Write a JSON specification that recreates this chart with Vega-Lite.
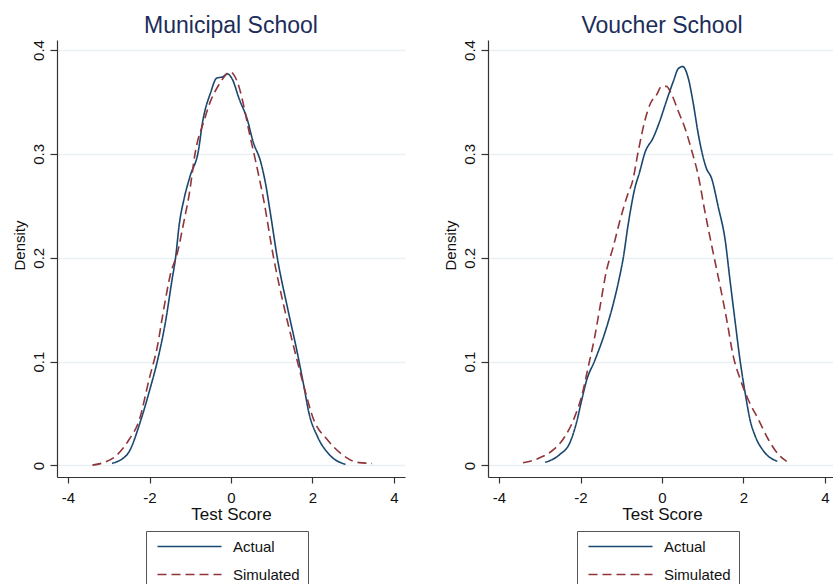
{
  "$schema": "https://vega.github.io/schema/vega-lite/v6.json",
  "background": "white",
  "padding": {"left": 12, "top": 14, "right": 0, "bottom": 0},
  "config": {
    "font": "Liberation Sans",
    "view": {"stroke": null},
    "axis": {
      "domainColor": "#333333",
      "domainWidth": 1.2,
      "tickColor": "#333333",
      "tickWidth": 1.2,
      "labelFont": "Liberation Sans",
      "titleFont": "Liberation Sans",
      "labelColor": "#111111",
      "titleColor": "#111111",
      "labelFontSize": 15,
      "titleFontSize": 17,
      "titleFontWeight": "normal",
      "gridColor": "#e8f0f2",
      "gridWidth": 1.5,
      "labelFlush": false
    },
    "title": {
      "font": "Liberation Sans",
      "fontSize": 23,
      "fontWeight": "normal",
      "color": "#1c2d5a",
      "anchor": "middle",
      "baseline": "alphabetic",
      "offset": 2
    }
  },
  "spacing": 83,
  "bounds": "flush",
  "resolve": {
    "scale": {"color": "independent", "strokeDash": "independent"},
    "legend": {"color": "independent", "strokeDash": "independent"}
  },
  "datasets": {
    "municipal": [
      {"series": "Actual", "score": -2.92, "density": 0.002},
      {"series": "Actual", "score": -2.54, "density": 0.011},
      {"series": "Actual", "score": -2.21, "density": 0.044},
      {"series": "Actual", "score": -2.0, "density": 0.072},
      {"series": "Actual", "score": -1.81, "density": 0.1},
      {"series": "Actual", "score": -1.6, "density": 0.14},
      {"series": "Actual", "score": -1.45, "density": 0.178},
      {"series": "Actual", "score": -1.36, "density": 0.2},
      {"series": "Actual", "score": -1.27, "density": 0.232},
      {"series": "Actual", "score": -1.15, "density": 0.257},
      {"series": "Actual", "score": -1.0, "density": 0.279},
      {"series": "Actual", "score": -0.8, "density": 0.303},
      {"series": "Actual", "score": -0.7, "density": 0.33},
      {"series": "Actual", "score": -0.5, "density": 0.359},
      {"series": "Actual", "score": -0.35, "density": 0.373},
      {"series": "Actual", "score": -0.21, "density": 0.374},
      {"series": "Actual", "score": -0.09, "density": 0.377},
      {"series": "Actual", "score": 0.03, "density": 0.372},
      {"series": "Actual", "score": 0.2, "density": 0.353},
      {"series": "Actual", "score": 0.4, "density": 0.333},
      {"series": "Actual", "score": 0.54, "density": 0.312},
      {"series": "Actual", "score": 0.73, "density": 0.292},
      {"series": "Actual", "score": 0.84, "density": 0.273},
      {"series": "Actual", "score": 0.97, "density": 0.242},
      {"series": "Actual", "score": 1.14, "density": 0.199},
      {"series": "Actual", "score": 1.38, "density": 0.153},
      {"series": "Actual", "score": 1.63, "density": 0.108},
      {"series": "Actual", "score": 1.79, "density": 0.076},
      {"series": "Actual", "score": 1.91, "density": 0.051},
      {"series": "Actual", "score": 2.12, "density": 0.028},
      {"series": "Actual", "score": 2.4, "density": 0.011},
      {"series": "Actual", "score": 2.81, "density": 0.001},
      {"series": "Simulated", "score": -3.4, "density": 0.0003},
      {"series": "Simulated", "score": -3.11, "density": 0.003},
      {"series": "Simulated", "score": -2.83, "density": 0.009},
      {"series": "Simulated", "score": -2.5, "density": 0.025},
      {"series": "Simulated", "score": -2.25, "density": 0.044},
      {"series": "Simulated", "score": -2.01, "density": 0.083},
      {"series": "Simulated", "score": -1.81, "density": 0.114},
      {"series": "Simulated", "score": -1.64, "density": 0.153},
      {"series": "Simulated", "score": -1.48, "density": 0.185},
      {"series": "Simulated", "score": -1.32, "density": 0.204},
      {"series": "Simulated", "score": -1.15, "density": 0.236},
      {"series": "Simulated", "score": -1.03, "density": 0.26},
      {"series": "Simulated", "score": -0.87, "density": 0.303},
      {"series": "Simulated", "score": -0.66, "density": 0.332},
      {"series": "Simulated", "score": -0.5, "density": 0.351},
      {"series": "Simulated", "score": -0.29, "density": 0.367},
      {"series": "Simulated", "score": -0.15, "density": 0.375},
      {"series": "Simulated", "score": -0.03, "density": 0.379},
      {"series": "Simulated", "score": 0.07, "density": 0.376},
      {"series": "Simulated", "score": 0.2, "density": 0.364},
      {"series": "Simulated", "score": 0.32, "density": 0.345},
      {"series": "Simulated", "score": 0.44, "density": 0.322},
      {"series": "Simulated", "score": 0.61, "density": 0.292},
      {"series": "Simulated", "score": 0.8, "density": 0.256},
      {"series": "Simulated", "score": 1.05, "density": 0.199},
      {"series": "Simulated", "score": 1.3, "density": 0.153},
      {"series": "Simulated", "score": 1.54, "density": 0.114},
      {"series": "Simulated", "score": 1.79, "density": 0.076},
      {"series": "Simulated", "score": 2.03, "density": 0.044},
      {"series": "Simulated", "score": 2.36, "density": 0.025},
      {"series": "Simulated", "score": 2.73, "density": 0.0105},
      {"series": "Simulated", "score": 3.1, "density": 0.003},
      {"series": "Simulated", "score": 3.46, "density": 0.002}
    ],
    "voucher": [
      {"series": "Actual", "score": -2.87, "density": 0.003},
      {"series": "Actual", "score": -2.51, "density": 0.0105},
      {"series": "Actual", "score": -2.26, "density": 0.022},
      {"series": "Actual", "score": -2.1, "density": 0.041},
      {"series": "Actual", "score": -1.97, "density": 0.063},
      {"series": "Actual", "score": -1.85, "density": 0.082},
      {"series": "Actual", "score": -1.65, "density": 0.101},
      {"series": "Actual", "score": -1.4, "density": 0.128},
      {"series": "Actual", "score": -1.2, "density": 0.155},
      {"series": "Actual", "score": -1.05, "density": 0.18},
      {"series": "Actual", "score": -0.95, "density": 0.2},
      {"series": "Actual", "score": -0.83, "density": 0.232},
      {"series": "Actual", "score": -0.66, "density": 0.268},
      {"series": "Actual", "score": -0.56, "density": 0.281},
      {"series": "Actual", "score": -0.42, "density": 0.301},
      {"series": "Actual", "score": -0.21, "density": 0.316},
      {"series": "Actual", "score": -0.05, "density": 0.332},
      {"series": "Actual", "score": 0.11, "density": 0.351},
      {"series": "Actual", "score": 0.28, "density": 0.37},
      {"series": "Actual", "score": 0.4, "density": 0.382},
      {"series": "Actual", "score": 0.51, "density": 0.384},
      {"series": "Actual", "score": 0.65, "density": 0.372},
      {"series": "Actual", "score": 0.77, "density": 0.348},
      {"series": "Actual", "score": 0.89, "density": 0.319},
      {"series": "Actual", "score": 1.08, "density": 0.287},
      {"series": "Actual", "score": 1.22, "density": 0.276},
      {"series": "Actual", "score": 1.38, "density": 0.249},
      {"series": "Actual", "score": 1.55, "density": 0.217},
      {"series": "Actual", "score": 1.67, "density": 0.178},
      {"series": "Actual", "score": 1.79, "density": 0.14},
      {"series": "Actual", "score": 1.92, "density": 0.1},
      {"series": "Actual", "score": 2.04, "density": 0.07},
      {"series": "Actual", "score": 2.16, "density": 0.044},
      {"series": "Actual", "score": 2.29, "density": 0.028},
      {"series": "Actual", "score": 2.49, "density": 0.014},
      {"series": "Actual", "score": 2.83, "density": 0.004},
      {"series": "Simulated", "score": -3.41, "density": 0.0026},
      {"series": "Simulated", "score": -3.0, "density": 0.0074},
      {"series": "Simulated", "score": -2.67, "density": 0.015},
      {"series": "Simulated", "score": -2.38, "density": 0.028},
      {"series": "Simulated", "score": -2.14, "density": 0.047},
      {"series": "Simulated", "score": -1.97, "density": 0.067},
      {"series": "Simulated", "score": -1.81, "density": 0.095},
      {"series": "Simulated", "score": -1.65, "density": 0.124},
      {"series": "Simulated", "score": -1.52, "density": 0.153},
      {"series": "Simulated", "score": -1.36, "density": 0.188},
      {"series": "Simulated", "score": -1.2, "density": 0.21},
      {"series": "Simulated", "score": -1.03, "density": 0.236},
      {"series": "Simulated", "score": -0.85, "density": 0.26},
      {"series": "Simulated", "score": -0.72, "density": 0.274},
      {"series": "Simulated", "score": -0.58, "density": 0.303},
      {"series": "Simulated", "score": -0.42, "density": 0.332},
      {"series": "Simulated", "score": -0.29, "density": 0.348},
      {"series": "Simulated", "score": -0.13, "density": 0.357},
      {"series": "Simulated", "score": -0.01, "density": 0.365},
      {"series": "Simulated", "score": 0.11, "density": 0.365},
      {"series": "Simulated", "score": 0.24, "density": 0.357},
      {"series": "Simulated", "score": 0.4, "density": 0.341},
      {"series": "Simulated", "score": 0.57, "density": 0.324},
      {"series": "Simulated", "score": 0.73, "density": 0.303},
      {"series": "Simulated", "score": 0.89, "density": 0.279},
      {"series": "Simulated", "score": 1.05, "density": 0.245},
      {"series": "Simulated", "score": 1.26, "density": 0.204},
      {"series": "Simulated", "score": 1.43, "density": 0.172},
      {"series": "Simulated", "score": 1.59, "density": 0.14},
      {"series": "Simulated", "score": 1.75, "density": 0.105},
      {"series": "Simulated", "score": 1.92, "density": 0.083},
      {"series": "Simulated", "score": 2.12, "density": 0.063},
      {"series": "Simulated", "score": 2.37, "density": 0.044},
      {"series": "Simulated", "score": 2.61, "density": 0.025},
      {"series": "Simulated", "score": 2.86, "density": 0.0105},
      {"series": "Simulated", "score": 3.06, "density": 0.004}
    ]
  },
  "hconcat": [
    {
      "title": {"text": "Municipal School"},
      "width": 348,
      "height": 437,
      "data": {"name": "municipal"},
      "mark": {"type": "line", "interpolate": "monotone", "strokeWidth": 1.6},
      "encoding": {
        "x": {
          "field": "score", "type": "quantitative",
          "scale": {"domain": [-4.27, 4.27], "nice": false, "zero": false},
          "axis": {"title": "Test Score", "values": [-4, -2, 0, 2, 4], "grid": false, "tickSize": 6,
            "labelBaseline": "alphabetic", "labelPadding": 19,
            "labelExpr": "datum.value < 0 ? '-' + (-datum.value) : datum.label",
            "titleBaseline": "alphabetic", "titleY": 42}
        },
        "y": {
          "field": "density", "type": "quantitative",
          "scale": {"domain": [-0.0111, 0.4096], "nice": false, "zero": false},
          "axis": {"title": "Density", "values": [0, 0.1, 0.2, 0.3, 0.4], "grid": true, "tickSize": 7, "format": "~g",
            "labelAngle": -90, "labelAlign": "center", "labelBaseline": "middle", "labelPadding": 11.5,
            "titleAngle": -90, "titleBaseline": "middle", "titleAlign": "center", "titleX": -38, "titleY": 205, "titleFontSize": 15}
        },
        "color": {
          "field": "series", "type": "nominal",
          "scale": {"domain": ["Actual", "Simulated"], "range": ["#1a476f", "#90353b"]},
          "legend": {"title": null, "orient": "none", "legendX": 89, "legendY": 491, "direction": "vertical",
            "symbolType": "M-1,0H15", "symbolSize": 64, "symbolStrokeWidth": 1.5, "labelOffset": 64,
            "labelFontSize": 15, "labelFont": "Liberation Sans", "labelColor": "#111111", "rowPadding": 12,
            "padding": 8, "strokeColor": "#555555", "fillColor": "white"}
        },
        "strokeDash": {
          "field": "series", "type": "nominal",
          "scale": {"domain": ["Actual", "Simulated"], "range": [[1, 0], [9, 5]]},
          "legend": {"title": null, "orient": "none", "legendX": 89, "legendY": 491, "direction": "vertical",
            "symbolType": "M-1,0H15", "symbolSize": 64, "symbolStrokeWidth": 1.5, "labelOffset": 64,
            "labelFontSize": 15, "labelFont": "Liberation Sans", "labelColor": "#111111", "rowPadding": 12,
            "padding": 8, "strokeColor": "#555555", "fillColor": "white"}
        }
      }
    },
    {
      "title": {"text": "Voucher School"},
      "width": 348,
      "height": 437,
      "data": {"name": "voucher"},
      "mark": {"type": "line", "interpolate": "monotone", "strokeWidth": 1.6},
      "encoding": {
        "x": {
          "field": "score", "type": "quantitative",
          "scale": {"domain": [-4.27, 4.27], "nice": false, "zero": false},
          "axis": {"title": "Test Score", "values": [-4, -2, 0, 2, 4], "grid": false, "tickSize": 6,
            "labelBaseline": "alphabetic", "labelPadding": 19,
            "labelExpr": "datum.value < 0 ? '-' + (-datum.value) : datum.label",
            "titleBaseline": "alphabetic", "titleY": 42}
        },
        "y": {
          "field": "density", "type": "quantitative",
          "scale": {"domain": [-0.0111, 0.4096], "nice": false, "zero": false},
          "axis": {"title": "Density", "values": [0, 0.1, 0.2, 0.3, 0.4], "grid": true, "tickSize": 7, "format": "~g",
            "labelAngle": -90, "labelAlign": "center", "labelBaseline": "middle", "labelPadding": 11.5,
            "titleAngle": -90, "titleBaseline": "middle", "titleAlign": "center", "titleX": -38, "titleY": 205, "titleFontSize": 15}
        },
        "color": {
          "field": "series", "type": "nominal",
          "scale": {"domain": ["Actual", "Simulated"], "range": ["#1a476f", "#90353b"]},
          "legend": {"title": null, "orient": "none", "legendX": 89, "legendY": 491, "direction": "vertical",
            "symbolType": "M-1,0H15", "symbolSize": 64, "symbolStrokeWidth": 1.5, "labelOffset": 64,
            "labelFontSize": 15, "labelFont": "Liberation Sans", "labelColor": "#111111", "rowPadding": 12,
            "padding": 8, "strokeColor": "#555555", "fillColor": "white"}
        },
        "strokeDash": {
          "field": "series", "type": "nominal",
          "scale": {"domain": ["Actual", "Simulated"], "range": [[1, 0], [9, 5]]},
          "legend": {"title": null, "orient": "none", "legendX": 89, "legendY": 491, "direction": "vertical",
            "symbolType": "M-1,0H15", "symbolSize": 64, "symbolStrokeWidth": 1.5, "labelOffset": 64,
            "labelFontSize": 15, "labelFont": "Liberation Sans", "labelColor": "#111111", "rowPadding": 12,
            "padding": 8, "strokeColor": "#555555", "fillColor": "white"}
        }
      }
    }
  ]
}
